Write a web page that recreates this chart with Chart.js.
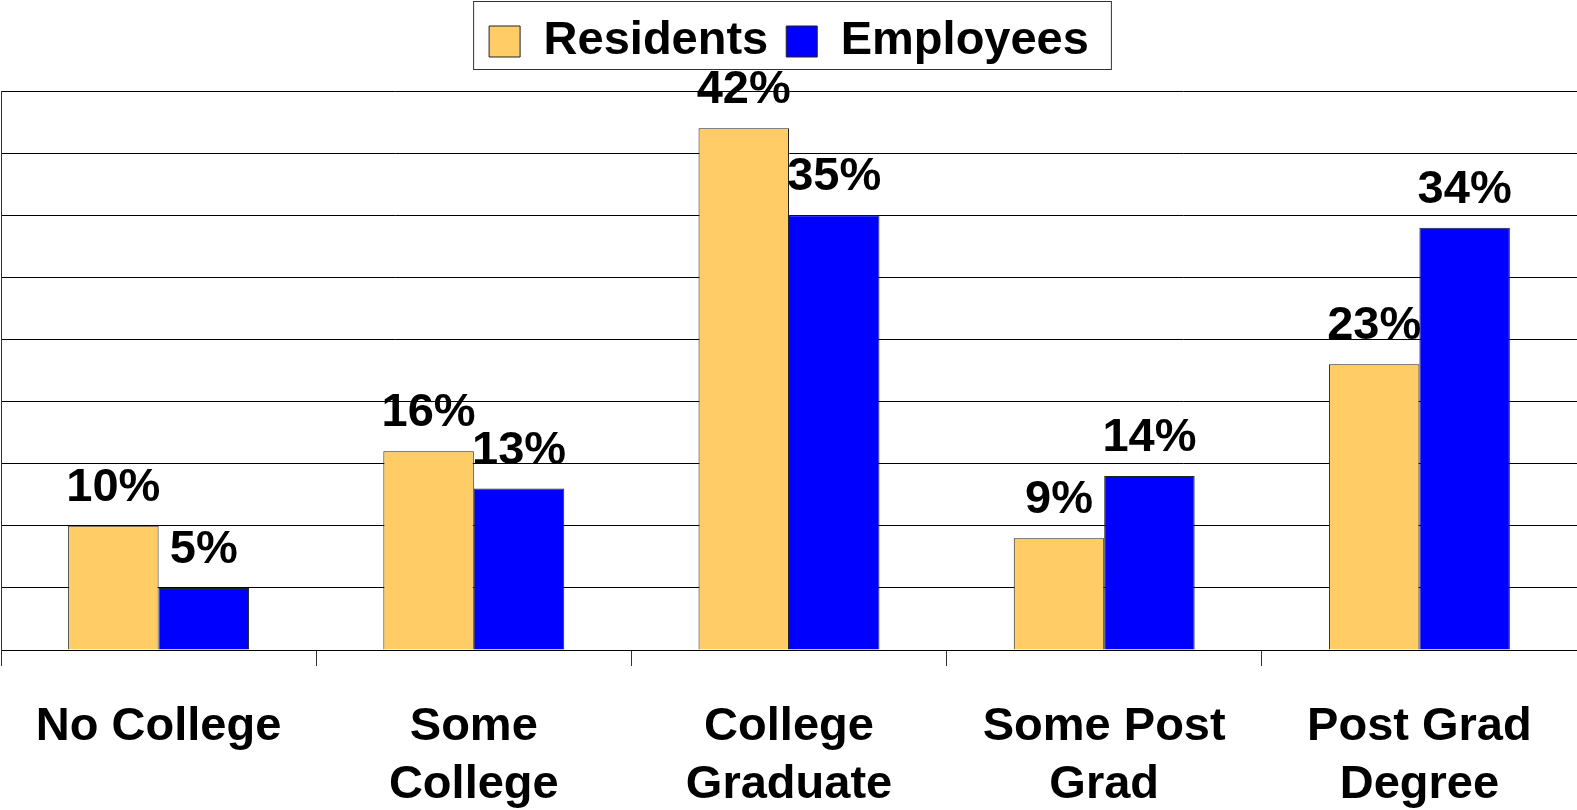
<!DOCTYPE html>
<html>
<head>
<meta charset="utf-8">
<script src="https://cdn.jsdelivr.net/npm/chart.js@4/dist/chart.umd.min.js"></script>
<style>
  html, body { margin: 0; padding: 0; background: #fff; }
  #wrap { width: 1577px; height: 810px; position: relative; }
</style>
</head>
<body>
<div id="wrap"><canvas id="eduChart"></canvas></div>
<script>
// datos del grafico
const categories = [["No College"], ["Some", "College"], ["College", "Graduate"], ["Some Post", "Grad"], ["Post Grad", "Degree"]];
const residents = [10, 16, 42, 9, 23];
const employees = [5, 13, 35, 14, 34];
const yMax = 45;
const yStep = 5;

const FONT = '"Liberation Sans", Arial, sans-serif';
Chart.defaults.font.family = FONT;
Chart.defaults.color = "#000";

// mas espacio debajo de la leyenda
const legendGap = {
  id: "legendGap",
  beforeInit(chart) {
    if (!chart.legend) return;
    const origFit = chart.legend.fit;
    chart.legend.fit = function () {
      origFit.bind(chart.legend)();
      this.height += 16;
    };
  }
};

// etiquetas de valor y caja de la leyenda (antes de la rejilla y las barras)
const valueLabels = {
  id: "valueLabels",
  beforeDraw(chart) {
    const ctx = chart.ctx;
    ctx.save();
    ctx.fillStyle = "#fff";
    ctx.fillRect(0, 0, chart.width, chart.height);
    ctx.font = "bold 47px " + FONT;
    ctx.textAlign = "center";
    ctx.textBaseline = "alphabetic";
    ctx.fillStyle = "#000";
    chart.data.datasets.forEach((ds, i) => {
      chart.getDatasetMeta(i).data.forEach((bar, j) => {
        ctx.fillText(ds.data[j] + "%", bar.x, bar.y - 25);
      });
    });

    const boxes = chart.legend.legendHitBoxes;
    if (boxes && boxes.length) {
      const left = Math.min(...boxes.map(b => b.left)) - 16;
      const right = Math.max(...boxes.map(b => b.left + b.width)) + 22;
      ctx.fillStyle = "#fff";
      ctx.fillRect(left, 1, right - left, 68);
      ctx.strokeStyle = "#333";
      ctx.lineWidth = 1;
      ctx.strokeRect(left + 0.5, 1.5, right - left, 68);
    }
    ctx.restore();
  }
};

const ctx = document.getElementById("eduChart").getContext("2d");
new Chart(ctx, {
  type: "bar",
  data: {
    labels: categories,
    datasets: [
      {
        label: "Residents",
        data: residents,
        backgroundColor: "#FFCC66",
        borderColor: "#222",
        borderWidth: 1,
      },
      {
        label: "Employees",
        data: employees,
        backgroundColor: "#0000FF",
        borderColor: "#222",
        borderWidth: 1,
      }
    ]
  },
  options: {
    responsive: true,
    maintainAspectRatio: false,
    animation: false,
    categoryPercentage: 0.574,
    barPercentage: 1.0,
    layout: { padding: { left: 1, right: 0, top: 0, bottom: 0 } },
    plugins: {
      legend: {
        position: "top",
        labels: {
          font: { size: 47, weight: "bold" },
          color: "#000",
          boxWidth: 31,
          boxHeight: 31,
          padding: 18,
        }
      },
      tooltip: { enabled: false },
    },
    scales: {
      x: {
        grid: {
          drawOnChartArea: false,
          drawTicks: true,
          tickLength: 16,
          color: "#333",
        },
        border: { color: "#000", width: 1 },
        ticks: {
          font: { size: 47, weight: "bold", lineHeight: 1.234 },
          color: "#000",
          padding: 32,
          maxRotation: 0,
          autoSkip: false,
        },
        afterFit(scale) { scale.height = 160; }
      },
      y: {
        min: 0,
        max: yMax,
        ticks: { display: false, stepSize: yStep },
        grid: { color: "#000", lineWidth: 1, drawTicks: false },
        border: { color: "#333", width: 1 },
      }
    }
  },
  plugins: [legendGap, valueLabels]
});
</script>
</body>
</html>
